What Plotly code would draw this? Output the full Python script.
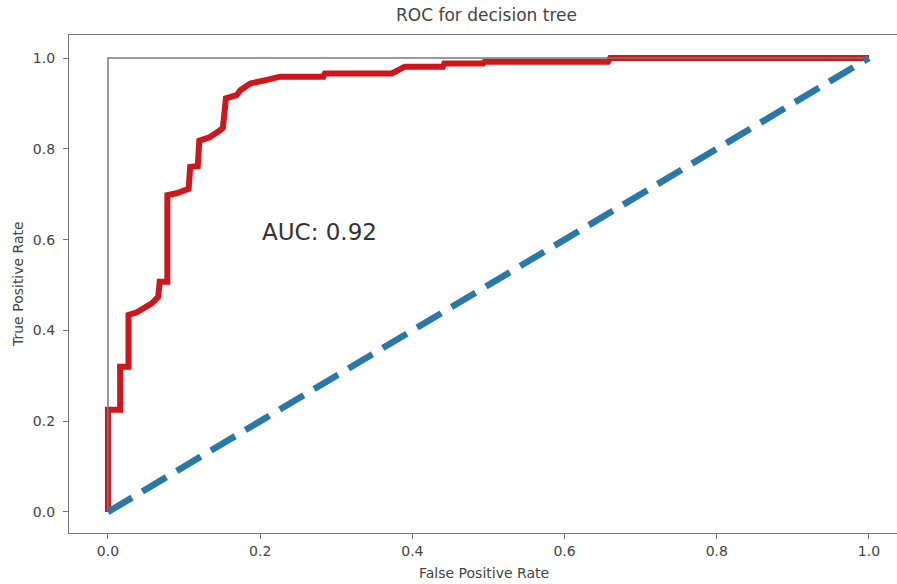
import plotly.graph_objects as go

# ROC curve points
fpr = [0, 0, 0.016, 0.016, 0.027, 0.027, 0.038, 0.048, 0.058, 0.066, 0.068, 0.078, 0.078,
       0.090, 0.106, 0.108, 0.118, 0.120, 0.133, 0.145, 0.151, 0.155, 0.169, 0.174, 0.187,
       0.209, 0.226, 0.283, 0.285, 0.373, 0.39, 0.44, 0.442, 0.493, 0.495, 0.657, 0.66, 1.0]
tpr = [0, 0.225, 0.225, 0.32, 0.32, 0.434, 0.44, 0.45, 0.46, 0.474, 0.507, 0.507, 0.698,
       0.702, 0.712, 0.76, 0.762, 0.818, 0.825, 0.838, 0.846, 0.911, 0.918, 0.929, 0.944,
       0.952, 0.959, 0.959, 0.966, 0.966, 0.981, 0.981, 0.988, 0.988, 0.992, 0.992, 1.0, 1.0]

perfect_x = [0, 0, 1]
perfect_y = [0, 1, 1]
chance_x = [0, 1]
chance_y = [0, 1]

tick_vals = [0.0, 0.2, 0.4, 0.6, 0.8, 1.0]
tick_text = ["0.0", "0.2", "0.4", "0.6", "0.8", "1.0"]

title_text = "ROC for decision tree"
x_label = "False Positive Rate"
y_label = "True Positive Rate"
auc_text = "AUC: 0.92"

FONT = "DejaVu Sans"

fig = go.Figure()
fig.add_trace(go.Scatter(x=fpr, y=tpr, mode="lines",
                         line=dict(color="#d0161b", width=6), showlegend=False))
fig.add_trace(go.Scatter(x=perfect_x, y=perfect_y, mode="lines",
                         line=dict(color="#7a7a7a", width=1.5), showlegend=False))
fig.add_trace(go.Scatter(x=chance_x, y=chance_y, mode="lines",
                         line=dict(color="#2a78a8", width=6.5, dash="28px,12px"), showlegend=False))

W, H = 897, 584
ml, mt, mb, mr = 69, 35, 51, 0
fig.update_layout(
    width=W, height=H,
    margin=dict(l=ml, r=mr, t=mt, b=mb),
    paper_bgcolor="white", plot_bgcolor="white",
    font=dict(family=FONT, color="#444"),
    xaxis=dict(range=[-0.0512, 1.0368], tickvals=tick_vals, ticktext=tick_text,
               showgrid=False, zeroline=False, showline=True, mirror=True,
               linecolor="#777", linewidth=1.2, ticks="outside", ticklen=5,
               tickcolor="#777", tickfont=dict(size=14, color="#444")),
    yaxis=dict(range=[-0.0463, 1.0507], tickvals=tick_vals, ticktext=tick_text,
               showgrid=False, zeroline=False, showline=True, mirror=False,
               linecolor="#777", linewidth=1.2, ticks="outside", ticklen=5,
               ticklabelstandoff=5,
               tickcolor="#777", tickfont=dict(size=14, color="#444")),
    annotations=[
        dict(text=title_text, xref="paper", yref="paper",
             x=(486 - ml) / (W - ml - mr), y=1 + (35 - 15) / (H - mt - mb),
             xanchor="center", yanchor="middle", showarrow=False,
             font=dict(size=17, color="#444", family=FONT)),
        dict(text=x_label, xref="paper", yref="paper",
             x=(484 - ml) / (W - ml - mr), y=-(573 - 533) / (H - mt - mb),
             xanchor="center", yanchor="middle", showarrow=False,
             font=dict(size=14, color="#444", family=FONT)),
        dict(text=y_label, xref="paper", yref="paper", textangle=-90,
             x=(18 - ml) / (W - ml - mr), y=0.5,
             xanchor="center", yanchor="middle", showarrow=False,
             font=dict(size=14, color="#444", family=FONT)),
        dict(text=auc_text, xref="x", yref="y", x=0.2, y=0.6167,
             xanchor="left", yanchor="middle", showarrow=False,
             font=dict(size=23, color="#333", family=FONT)),
    ],
)

fig.write_html("out.html")
